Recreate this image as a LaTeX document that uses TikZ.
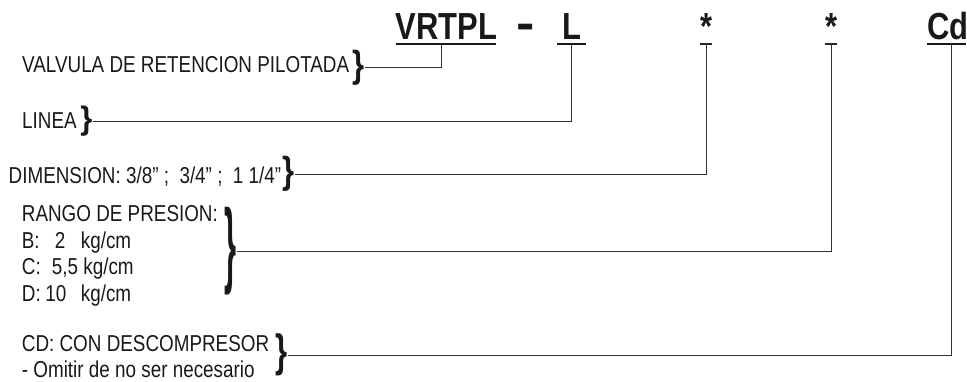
\documentclass[tikz,border=0pt]{standalone}
\usepackage{fontspec}
\setmainfont{Liberation Sans}[FakeStretch=0.82]
\begin{document}
\begin{tikzpicture}[x=1pt,y=-1pt,
  lbl/.style={anchor=base west, inner sep=0pt, font=\fontsize{23}{27}\selectfont, text=black!90},
  ttl/.style={anchor=base west, inner sep=0pt, font=\fontsize{37.7}{40}\selectfont\bfseries, text=black!90},
  brc/.style={inner sep=0pt, font=\fontsize{37.7}{40}\selectfont\bfseries, text=black!90},
  conn/.style={line width=1pt, draw=black!80},
  uline/.style={line width=2pt, draw=black!90},
  tick/.style={line width=1.5pt, draw=black!85}]
\useasboundingbox (0,0) rectangle (967,381);
% title
\node[ttl] (t1) at (395.5,39.5) {VRTPL};
\node[ttl, font=\fontsize{48}{48}\selectfont\bfseries] (t2) at (516,39.5) {\scalebox{1.4}[1]{-}};
\node[ttl] (t3) at (562,39.5) {L};
\node[ttl, anchor=base] (t4) at (706.5,39.5) {*};
\node[ttl, anchor=base] (t5) at (831.5,39.5) {*};
\node[ttl] (t6) at (927,39.5) {Cd};
\draw[uline] (395.5,43.5) -- (496,43.5);
\draw[uline] (557,43.5) -- (586,43.5);
\draw[tick] (700,44) -- (712,44);
\draw[tick] (825,44) -- (837,44);
\draw[uline] (927,43.5) -- (966,43.5);
\coordinate (k1) at (441,44);
\coordinate (k2) at (571,44);
\coordinate (k3) at (706,44);
\coordinate (k4) at (831,44);
\coordinate (k5) at (951,44);
% labels
\node[lbl] (l1) at (22,72) {VALVULA DE RETENCION PILOTADA};
\node[brc] (b1) at (359,67.5) {\}};
\draw[conn] (b1.east) -| (k1);
\node[lbl] (l2) at (22,128) {LINEA};
\node[brc] (b2) at (86.5,121) {\scalebox{1}[0.86]{\}}};
\draw[conn] (b2.east) -| (k2);
\node[lbl] (l3) at (8.5,183) {DIMENSION: 3/8” ;\ \ 3/4” ;\ \ 1 1/4”};
\node[brc] (b3) at (288.5,174) {\}};
\draw[conn] (b3.east) -| (k3);
\node[lbl] (l4) at (21.7,221.5) {RANGO DE PRESION:};
\node[lbl] (l5) at (21.7,248) {\makebox[59pt][l]{\makebox[33pt][l]{B:}2}kg/cm};
\node[lbl] (l6) at (21.7,274.5) {\makebox[30pt][l]{C:}5,5 kg/cm};
\node[lbl] (l7) at (21.7,301) {\makebox[59pt][l]{\makebox[23.5pt][l]{D:}10}kg/cm};
\node[brc] (b4) at (230.5,251) {\scalebox{1}[2.5]{\}}};
\draw[conn] (b4.east) -| (k4);
\node[lbl] (l8) at (21.7,351.5) {CD: CON DESCOMPRESOR};
\node[lbl] (l9) at (21.7,377) {- Omitir de no ser necesario};
\node[brc] (b5) at (281.5,355) {\scalebox{1}[1.2]{\}}};
\draw[conn] (b5.east) -| (k5);
\end{tikzpicture}
\end{document}
